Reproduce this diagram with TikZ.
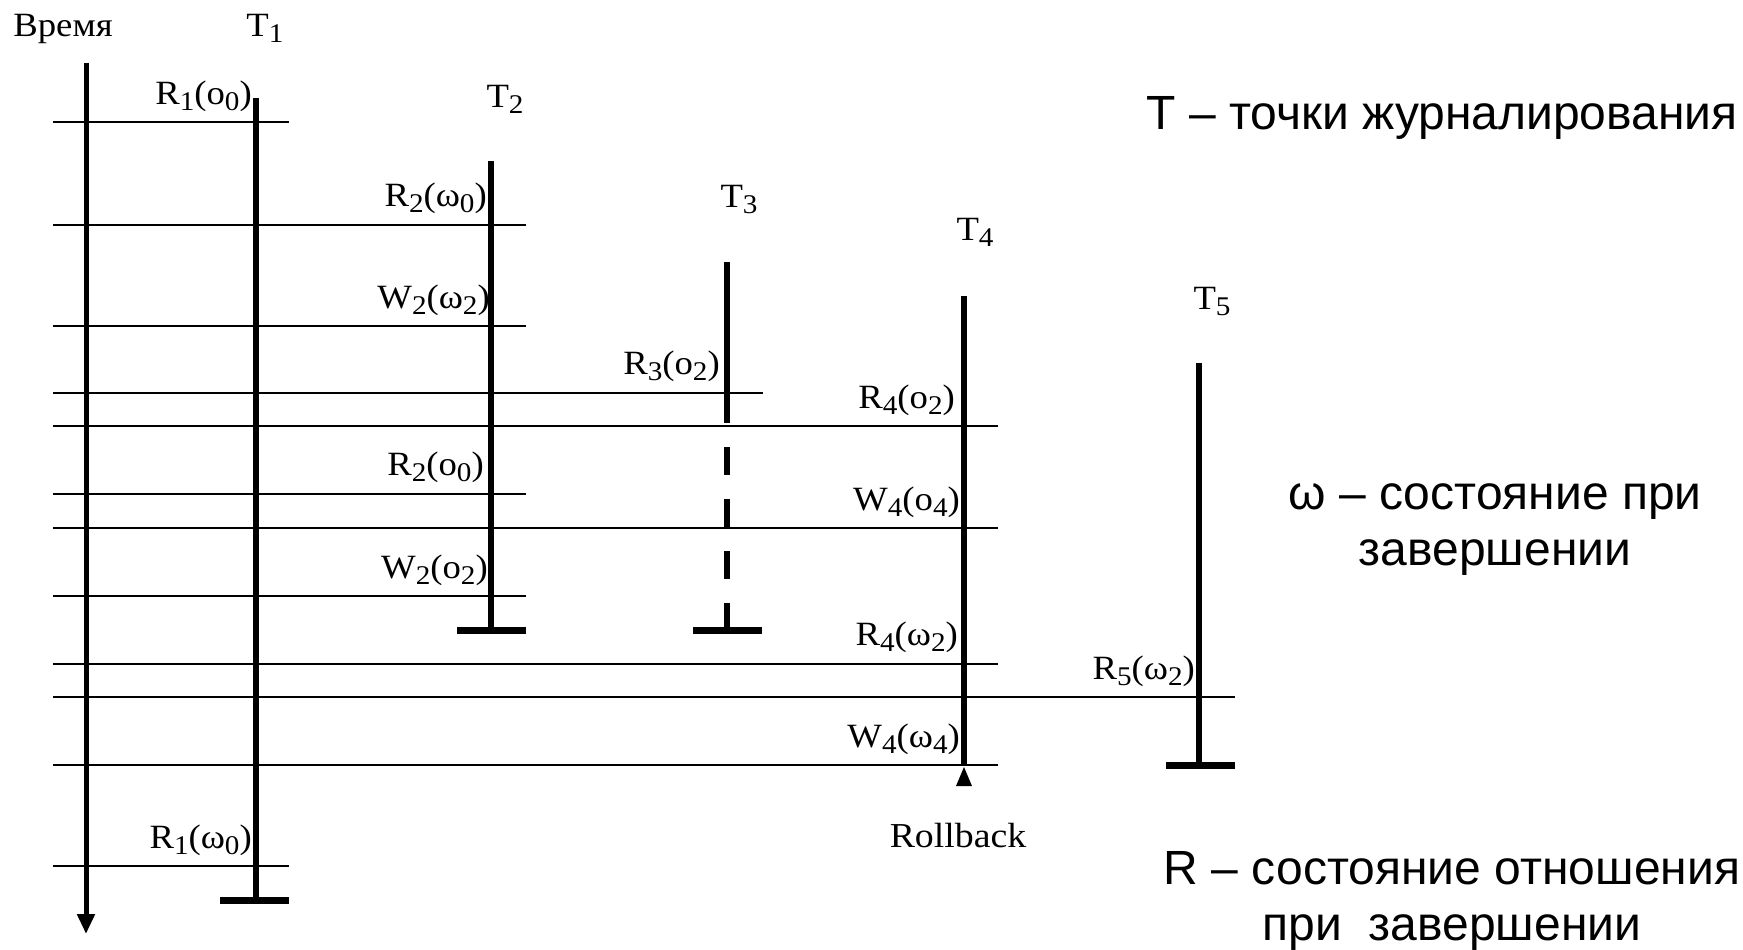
\documentclass[tikz,border=0pt]{standalone}
\usepackage{fontspec}
\setmainfont{Liberation Serif}
\newfontfamily\lblfont[FakeStretch=1.08]{Liberation Serif}
\newfontfamily\legendfont{Liberation Sans}
\usetikzlibrary{arrows.meta}
\newcommand\sbs[1]{\raisebox{-6pt}{\fontsize{27}{30}\selectfont #1}}
\begin{document}
\begin{tikzpicture}[x=1pt,y=-1pt,
  life/.style={line width=5.5pt},
  evt/.style={line width=2pt},
  endbar/.style={line width=7pt},
  lbl/.style={font=\lblfont\fontsize{34}{40}\selectfont, anchor=base east, inner sep=0pt},
  tlbl/.style={font=\lblfont\fontsize{34}{40}\selectfont, anchor=base, inner sep=0pt},
  legend/.style={font=\legendfont\fontsize{48}{56}\selectfont, align=center, inner sep=0pt}
]
\useasboundingbox (0,0) rectangle (1743,950);

% time axis
\coordinate (axtop) at (86,63);
\coordinate (axbot) at (86,934);
\draw[line width=5pt,-{Triangle[length=20pt,width=17pt]}] (axtop) -- (axbot);
\node[tlbl] (time) at (63,37) {Время};

% event lines
\foreach \n/\y/\xe in {1/122/289, 2/224.5/526, 3/326/526, 4/392.5/763, 5/426/998,
                       6/493.5/526, 7/528/998, 8/596/526, 9/663.5/998, 10/697/1235,
                       11/765/998, 12/866/289}{
  \coordinate (e\n a) at (53,\y);
  \coordinate (e\n b) at (\xe,\y);
  \draw[evt] (e\n a) -- (e\n b);
}

% T1
\coordinate (t1top) at (256,98);
\coordinate (t1bot) at (256,900);
\draw[life] (t1top) -- (t1bot);
\coordinate (c1a) at (220,900); \coordinate (c1b) at (289,900);
\draw[endbar] (c1a) -- (c1b);
\node[tlbl] (T1) at (265,37) {T\sbs{1}};

% T2
\coordinate (t2top) at (491,161);
\coordinate (t2bot) at (491,630);
\draw[life] (t2top) -- (t2bot);
\coordinate (c2a) at (457,630); \coordinate (c2b) at (526,630);
\draw[endbar] (c2a) -- (c2b);
\node[tlbl] (T2) at (505,107) {T\sbs{2}};

% T3
\coordinate (t3top) at (727,262);
\coordinate (t3mid) at (727,423);
\coordinate (t3dash) at (727,447);
\coordinate (t3bot) at (727,630);
\draw[life] (t3top) -- (t3mid);
\draw[life,dash pattern=on 28pt off 24pt] (t3dash) -- (t3bot);
\coordinate (c3a) at (693,630); \coordinate (c3b) at (762,630);
\draw[endbar] (c3a) -- (c3b);
\node[tlbl] (T3) at (739,207) {T\sbs{3}};

% T4
\coordinate (t4top) at (964,296);
\coordinate (t4bot) at (964,765);
\draw[life] (t4top) -- (t4bot);
\fill (964,767) -- (972,786) -- (956,786) -- cycle;
\node[tlbl] (T4) at (975,240) {T\sbs{4}};
\node[tlbl,font=\lblfont\fontsize{35}{40}\selectfont] (rb) at (958,847) {Rollback};

% T5
\coordinate (t5top) at (1199,363);
\coordinate (t5bot) at (1199,765);
\draw[life] (t5top) -- (t5bot);
\coordinate (c5a) at (1166,765); \coordinate (c5b) at (1235,765);
\draw[endbar] (c5a) -- (c5b);
\node[tlbl] (T5) at (1212,309) {T\sbs{5}};

% operation labels
\node[lbl] (l1)  at (252,104)   {R\sbs{1}(o\sbs{0})};
\node[lbl] (l2)  at (487,206.5) {R\sbs{2}(ω\sbs{0})};
\node[lbl] (l3)  at (490,308)   {W\sbs{2}(ω\sbs{2})};
\node[lbl] (l4)  at (720,374.5) {R\sbs{3}(o\sbs{2})};
\node[lbl] (l5)  at (955,408)   {R\sbs{4}(o\sbs{2})};
\node[lbl] (l6)  at (484,475.5) {R\sbs{2}(o\sbs{0})};
\node[lbl] (l7)  at (960,510)   {W\sbs{4}(o\sbs{4})};
\node[lbl] (l8)  at (488,578)   {W\sbs{2}(o\sbs{2})};
\node[lbl] (l9)  at (958,645.5) {R\sbs{4}(ω\sbs{2})};
\node[lbl] (l10) at (1195,679)  {R\sbs{5}(ω\sbs{2})};
\node[lbl] (l11) at (960,747)   {W\sbs{4}(ω\sbs{4})};
\node[lbl] (l12) at (252,848)   {R\sbs{1}(ω\sbs{0})};

% legend
\node[legend] (lgT) at (1442,118) {T – точки журналирования};
\node[legend] (lgW) at (1495,530) {ω – состояние при\\завершении};
\node[legend] (lgR) at (1452,901) {R – состояние отношения\\при\ \ завершении};
\end{tikzpicture}
\end{document}
